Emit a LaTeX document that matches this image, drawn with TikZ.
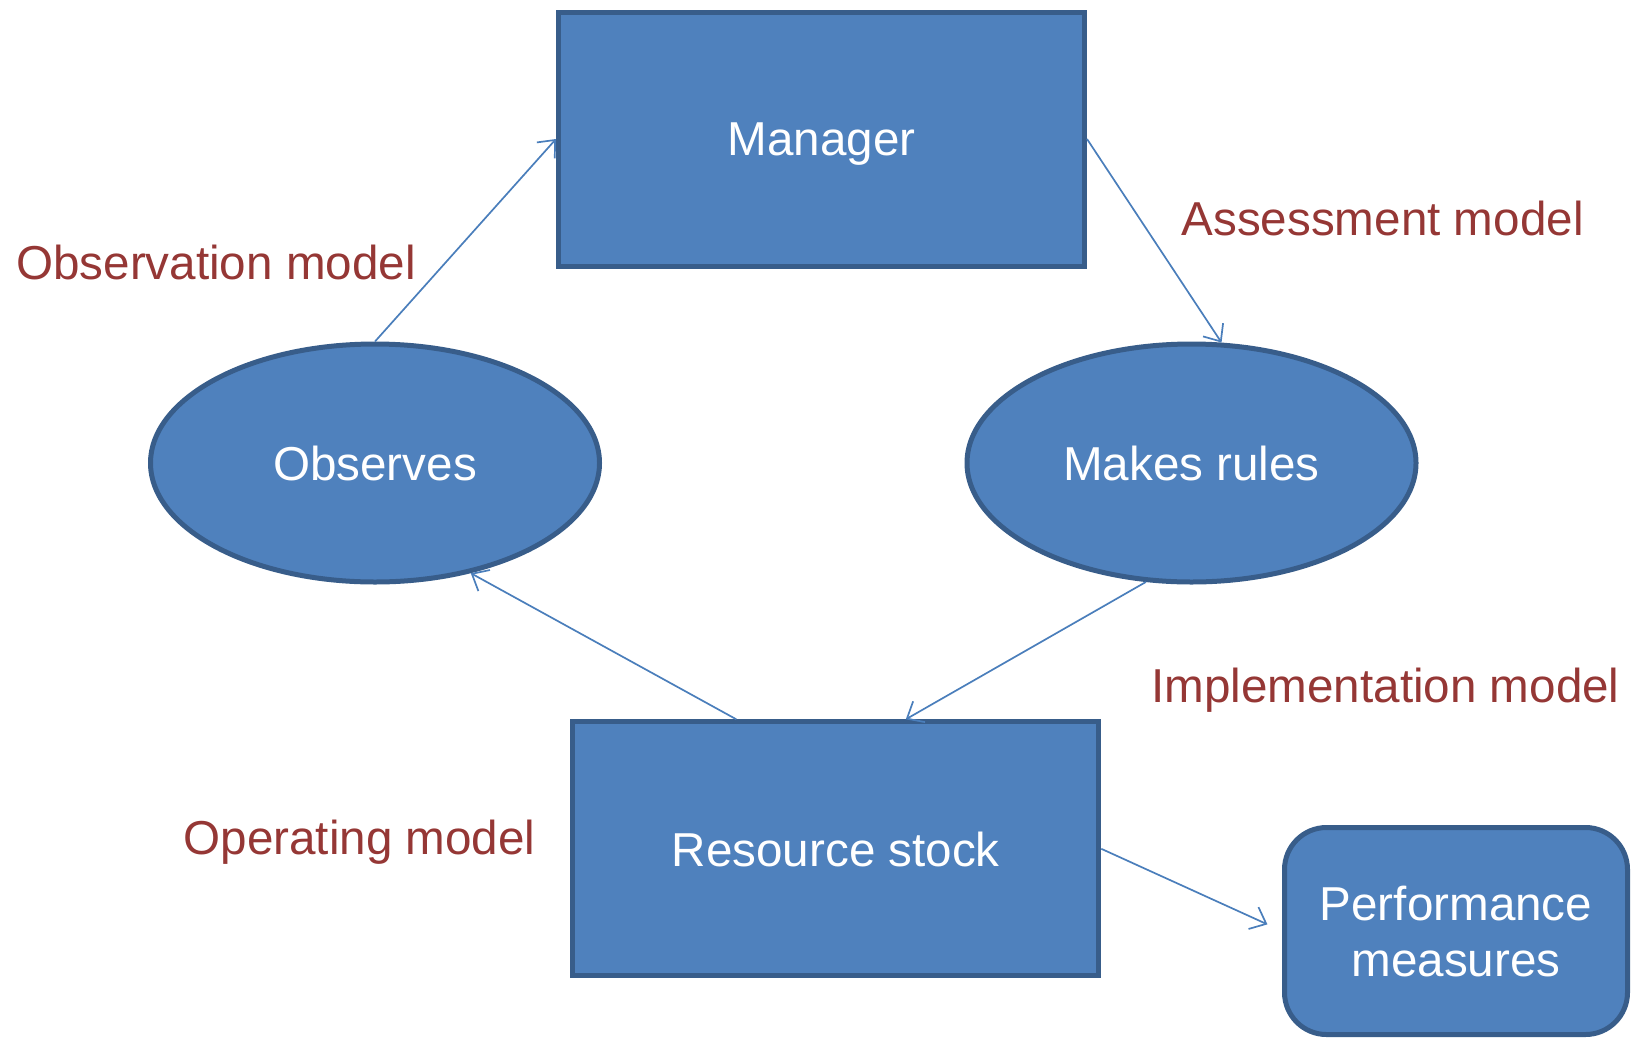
\documentclass[tikz,border=0pt]{standalone}
\usepackage{fontspec}
\setmainfont{Liberation Sans}
\usetikzlibrary{arrows.meta, shapes.geometric}
\definecolor{boxfill}{HTML}{4F81BD}
\definecolor{boxline}{HTML}{385D8A}
\definecolor{linkblue}{HTML}{4A7EBB}
\definecolor{modelred}{HTML}{953735}

\begin{document}
\begin{tikzpicture}[x=0.5pt, y=-0.5pt, >={Straight Barb[length=7pt,width=12pt]}]
    \tikzstyle{every node}=[font=\fontsize{23.8}{28}\selectfont]
    \tikzstyle{block}=[rectangle, draw=boxline, fill=boxfill, line width=2.5pt,
                       text=white, text depth=0pt, inner sep=0pt,
                       minimum width=263pt, minimum height=127pt]
    \tikzstyle{oval}=[ellipse, draw=boxline, fill=boxfill, line width=2.5pt,
                      text=white, text depth=0pt, inner sep=0pt,
                      minimum width=224.5pt, minimum height=119pt]
    \tikzstyle{link}=[->, draw=linkblue, line width=0.85pt]
    \tikzstyle{model}=[text=modelred, anchor=base]
    \useasboundingbox (0,0) rectangle (1632,1039);

    \node[block] (mgr) at (821.5,139)   {Manager};
    \node[oval]  (obs) at (375,463)     {Observes};
    \node[oval]  (mr)  at (1191.5,463)  {Makes rules};
    \node[block] (rs)  at (835.8,848.8) {Resource stock};
    \node[block, rounded corners=21pt, align=center,
          minimum width=171.5pt, minimum height=103.5pt]
                 (pm)  at (1456,931)    {Performance\\measures};

    \node[model] (om) at (216,279)    {Observation model};
    \node[model] (am) at (1382.6,235) {Assessment model};
    \node[model] (im) at (1385.5,702.5) {Implementation model};
    \node[model] (pm2) at (359.5,854.5) {Operating model};

    \path (obs.north) edge[link] (mgr.west)
          (mgr.east) edge[link] (mr.76)
          (mr.249) edge[link] ([xshift=35pt]rs.north)
          ([xshift=-49.75pt]rs.north) edge[link] (obs.-49)
          (rs.east) edge[link, shorten >=8pt] (pm.west);
\end{tikzpicture}
\end{document}
